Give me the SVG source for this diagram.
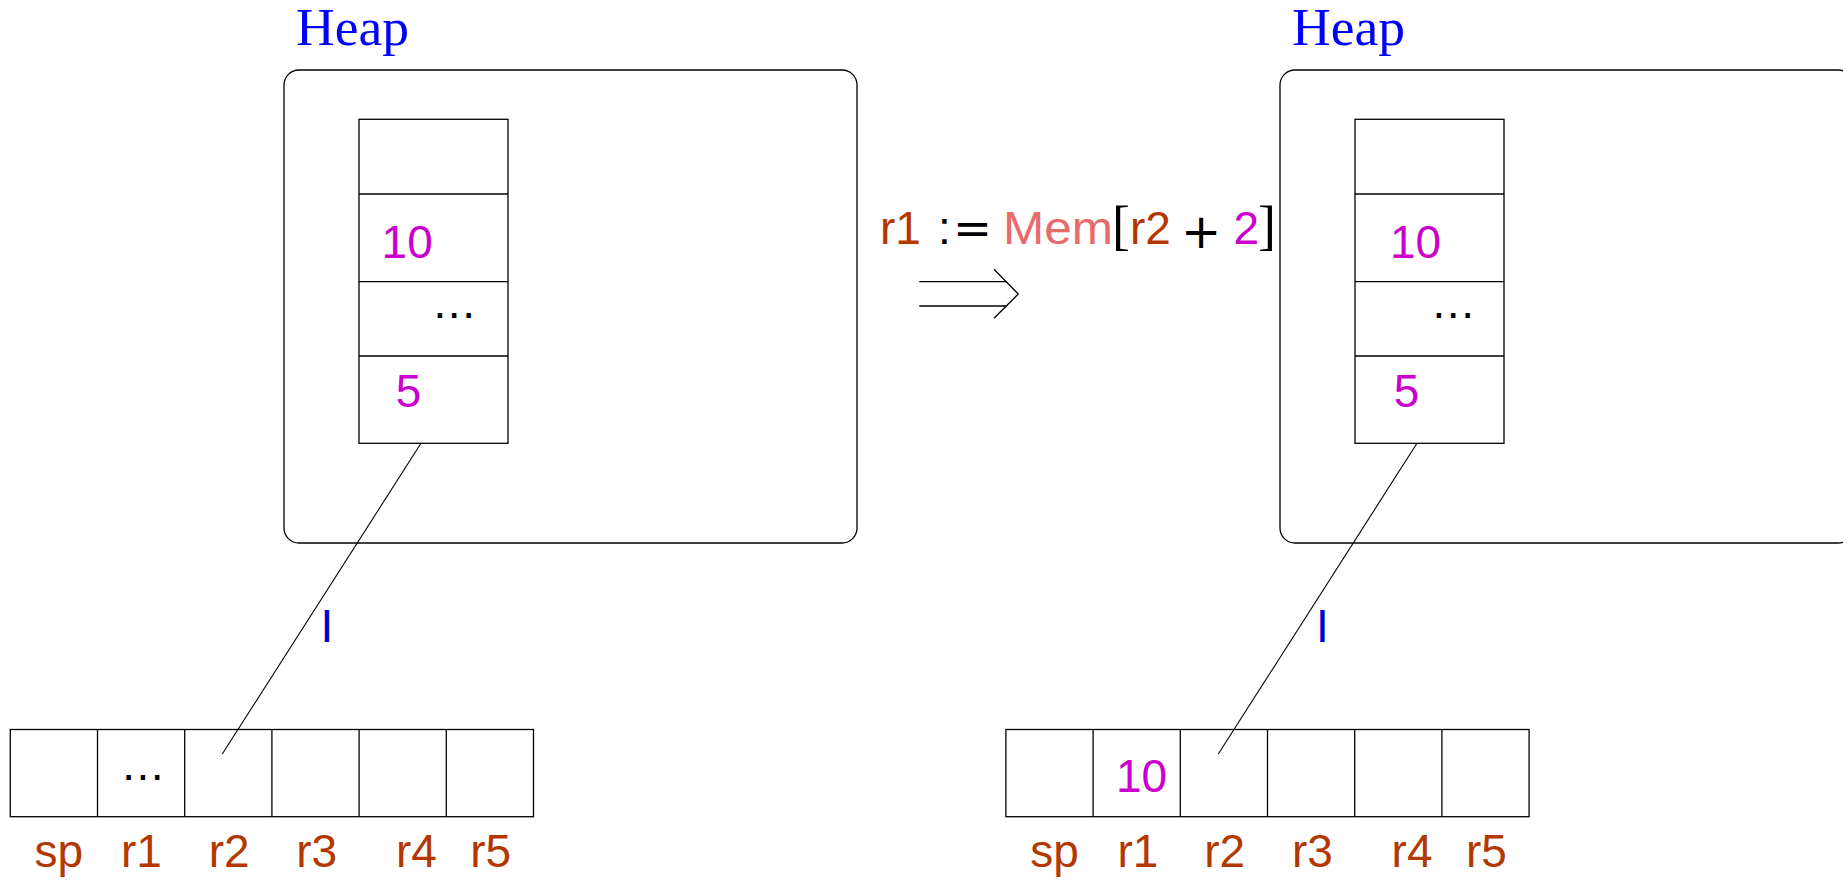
<svg xmlns="http://www.w3.org/2000/svg" width="1843" height="881" viewBox="0 0 1843 881">
<style>
.box{fill:#fff;stroke:#000;stroke-width:1.3}
.ln{fill:none;stroke:#000;stroke-width:1.3}
.cn{fill:none;stroke:#000;stroke-width:1.1}
.sans{font-family:"Liberation Sans",Arial,sans-serif;font-size:46px}
.serif{font-family:"Liberation Serif","Times New Roman",serif}
.heap{font-size:52px;fill:#0000FF}
.num{fill:#CC00CC}
.reg{fill:#B33800}
.mem{fill:#E86B6B}
.blk{fill:#000}
.ptr{fill:#0000CC}
</style>
<rect width="1843" height="881" fill="#fff"/>

<g id="heap-left">
  <text class="serif heap" x="296" y="45" textLength="113" lengthAdjust="spacingAndGlyphs">Heap</text>
  <rect class="box" x="284" y="70" width="573" height="473" rx="15" ry="15"/>
</g>
<g id="column-left">
  <rect class="box" x="359" y="119.3" width="149" height="324"/>
  <line class="ln" x1="359" y1="194" x2="508" y2="194"/>
  <line class="ln" x1="359" y1="281.7" x2="508" y2="281.7"/>
  <line class="ln" x1="359" y1="356" x2="508" y2="356"/>
  <text class="sans num" x="381.6" y="257.7" font-size="47">10</text>
  <text class="sans blk" x="433.6" y="318.3" letter-spacing="1.5">...</text>
  <text class="sans num" x="395.7" y="406.7" font-size="47">5</text>
</g>
<g id="registers-left">
  <rect class="box" x="10.3" y="729.5" width="523.2" height="87.2"/>
  <line class="ln" x1="97.5" y1="729.5" x2="97.5" y2="816.7"/>
  <line class="ln" x1="184.7" y1="729.5" x2="184.7" y2="816.7"/>
  <line class="ln" x1="271.9" y1="729.5" x2="271.9" y2="816.7"/>
  <line class="ln" x1="359.1" y1="729.5" x2="359.1" y2="816.7"/>
  <line class="ln" x1="446.3" y1="729.5" x2="446.3" y2="816.7"/>
  <text class="sans blk" x="122.3" y="779.6" letter-spacing="1.5">...</text>
  <text class="sans reg" x="34.6" y="866.7">sp</text>
  <text class="sans reg" x="121" y="866.7">r1</text>
  <text class="sans reg" x="208.7" y="866.7">r2</text>
  <text class="sans reg" x="296.3" y="866.7">r3</text>
  <text class="sans reg" x="396" y="866.7">r4</text>
  <text class="sans reg" x="470.3" y="866.7">r5</text>
</g>
<g id="label-I-left">
  <text class="sans ptr" x="320.5" y="642.3">I</text>
</g>

<g id="heap-right">
  <text class="serif heap" x="1292" y="45" textLength="113" lengthAdjust="spacingAndGlyphs">Heap</text>
  <rect class="box" x="1280" y="70" width="573" height="473" rx="15" ry="15"/>
</g>
<g id="column-right">
  <rect class="box" x="1355" y="119.3" width="149" height="324"/>
  <line class="ln" x1="1355" y1="194" x2="1504" y2="194"/>
  <line class="ln" x1="1355" y1="281.7" x2="1504" y2="281.7"/>
  <line class="ln" x1="1355" y1="356" x2="1504" y2="356"/>
  <text class="sans num" x="1390" y="257.7" font-size="47">10</text>
  <text class="sans blk" x="1432.6" y="318.3" letter-spacing="1.5">...</text>
  <text class="sans num" x="1393.7" y="406.7" font-size="47">5</text>
</g>
<g id="registers-right">
  <rect class="box" x="1005.9" y="729.5" width="523.2" height="87.2"/>
  <line class="ln" x1="1093.1" y1="729.5" x2="1093.1" y2="816.7"/>
  <line class="ln" x1="1180.3" y1="729.5" x2="1180.3" y2="816.7"/>
  <line class="ln" x1="1267.5" y1="729.5" x2="1267.5" y2="816.7"/>
  <line class="ln" x1="1354.7" y1="729.5" x2="1354.7" y2="816.7"/>
  <line class="ln" x1="1441.9" y1="729.5" x2="1441.9" y2="816.7"/>
  <text class="sans num" x="1116" y="791.7" font-size="47">10</text>
  <text class="sans reg" x="1030.2" y="866.7">sp</text>
  <text class="sans reg" x="1117.5" y="866.7">r1</text>
  <text class="sans reg" x="1204.3" y="866.7">r2</text>
  <text class="sans reg" x="1291.9" y="866.7">r3</text>
  <text class="sans reg" x="1391.6" y="866.7">r4</text>
  <text class="sans reg" x="1465.9" y="866.7">r5</text>
</g>
<g id="label-I-right">
  <text class="sans ptr" x="1316" y="642.3">I</text>
</g>

<g id="instruction">
  <text class="sans reg" x="880" y="243.5">r1</text>
  <text class="sans blk" x="938" y="243.5">:</text>
  <text x="953" y="243.5" font-family="DejaVu Sans,sans-serif" font-size="46" fill="#000" textLength="39" lengthAdjust="spacingAndGlyphs">=</text>
  <text class="sans mem" x="1003" y="243.5" textLength="110" lengthAdjust="spacingAndGlyphs">Mem</text>
  <text class="serif blk" x="1112" y="243.5" font-size="54">[</text>
  <text class="sans reg" x="1130" y="243.5">r2</text>
  <text x="1181" y="248" font-family="DejaVu Sans,sans-serif" font-size="48" fill="#000">+</text>
  <text class="sans num" x="1233.6" y="243.5">2</text>
  <text class="serif blk" x="1258" y="243.5" font-size="54">]</text>
</g>

<g id="connectors">
  <line class="ln" x1="919.3" y1="281.7" x2="1006.5" y2="281.7"/>
  <line class="ln" x1="919.3" y1="306" x2="1006.5" y2="306"/>
  <polyline class="ln" points="994,269.3 1018.3,294 994,318.3"/>
  <line class="cn" x1="421" y1="443.3" x2="222.3" y2="754"/>
  <line class="cn" x1="1417" y1="443.3" x2="1218.3" y2="754"/>
</g>
</svg>
